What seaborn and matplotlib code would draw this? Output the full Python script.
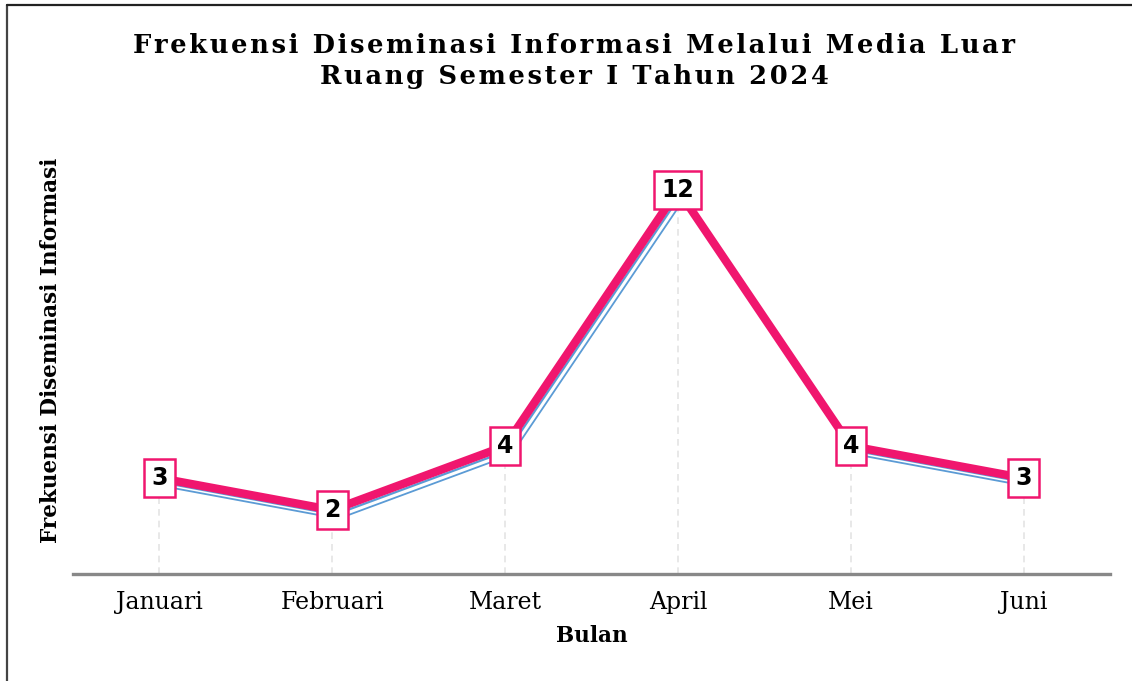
import pandas as pd
import matplotlib.pyplot as plt
import matplotlib.patheffects as pe
from matplotlib.lines import Line2D
import seaborn as sns

# Data
bulan = ["Januari", "Februari", "Maret", "April", "Mei", "Juni"]
frekuensi = [3, 2, 4, 12, 4, 3]

judul = ["Frekuensi Diseminasi Informasi Melalui Media Luar",
         "Ruang Semester I Tahun 2024"]

df = pd.DataFrame({"Bulan": bulan, "Frekuensi": frekuensi})

sns.set_theme(style="white")
plt.rcParams["font.family"] = ["DejaVu Serif"]
plt.rcParams["text.color"] = "black"
plt.rcParams["axes.labelcolor"] = "black"
plt.rcParams["xtick.color"] = "black"

pink = "#F0166E"
blue = "#5B9BD5"

fig = plt.figure(figsize=(11.32, 6.81), dpi=100)
ax = fig.add_axes([0.0645, 0.157, 0.9161, 0.658])

# -----------------------------
# drop lines under each point
# -----------------------------
ax.vlines(range(len(bulan)), 0, df["Frekuensi"], colors="#e4e4e4",
          linestyles=(0, (4, 3)), linewidth=1.2, zorder=1)

# -----------------------------
# main line with blue shadow lines
# -----------------------------
sns.lineplot(data=df, x="Bulan", y="Frekuensi", sort=False, ax=ax,
             color=pink, linewidth=6, zorder=3,
             path_effects=[
                 pe.Stroke(offset=(4.5, -6.2), linewidth=1.3, foreground=blue),
                 pe.Stroke(offset=(2.2, -3.2), linewidth=1.6, foreground=blue),
                 pe.Normal(),
             ])

# value labels
for i, v in enumerate(frekuensi):
    ax.text(i, v, str(v), ha="center", va="center", fontsize=17,
            fontweight="bold", family="DejaVu Sans", color="black",
            zorder=5,
            bbox=dict(boxstyle="square,pad=0.3", facecolor="white",
                      edgecolor=pink, linewidth=1.8))

ax.set_xlim(-0.5, len(bulan) - 0.5)
ax.set_ylim(0, 14)
ax.set_yticks([])
ax.tick_params(axis="x", length=0, labelsize=17, pad=12)

for s in ["left", "right", "top"]:
    ax.spines[s].set_visible(False)
ax.spines["bottom"].set_color("#888888")
ax.spines["bottom"].set_linewidth(2.4)

ax.set_xlabel("Bulan", fontsize=15.5, fontweight="bold", labelpad=8)
ax.set_ylabel("Frekuensi Diseminasi Informasi", fontsize=15.5,
              fontweight="bold", labelpad=8)

# wide-spaced title (hair spaces between letters)
for k, baris in enumerate(judul):
    fig.text(0.507, 0.933 - k * 0.045, "\u200a".join(baris),
             ha="center", va="center", fontsize=18.5, fontweight="bold")

# frame lines on left and top
fig.add_artist(Line2D([0.0065, 0.0065], [0, 0.993], transform=fig.transFigure,
                      color="#444444", linewidth=1.6))
fig.add_artist(Line2D([0.0065, 1.0], [0.993, 0.993], transform=fig.transFigure,
                      color="#222222", linewidth=1.6))

plt.savefig("out.png", dpi=100)
plt.close()
